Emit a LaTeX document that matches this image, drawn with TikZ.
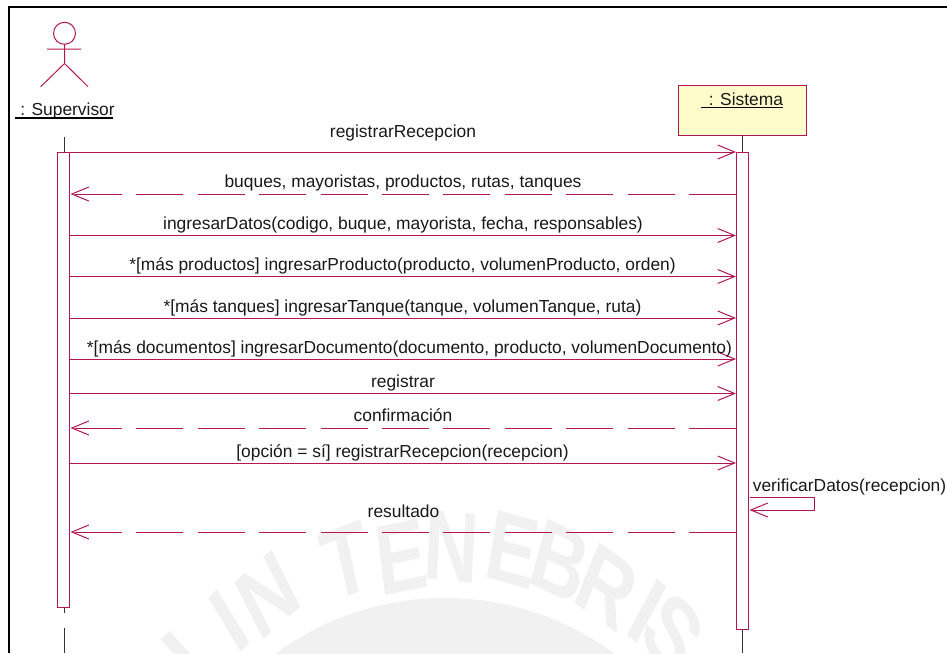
\documentclass[tikz,border=0pt]{standalone}
\usepackage{fontspec}
\setmainfont{Liberation Sans}
\usetikzlibrary{arrows.meta}
\definecolor{rose}{HTML}{B2184F}
\definecolor{wm}{HTML}{F1F1F1}
\tikzset{
  wmletter/.style={text=wm,inner sep=0pt,font=\fontsize{100}{100}\selectfont\bfseries,xscale=.76,transform shape},
  roseline/.style={draw=rose,line width=1pt},
  activation/.style={roseline,fill=white,rectangle,minimum width=12pt,inner sep=0pt,outer sep=0pt},
  msg/.style={roseline,-{Straight Barb[length=17pt,width=14pt,color=rose]}},
  reply/.style={msg,dash pattern=on 47pt off 14.4pt},
  lifeline/.style={draw=black!80,line width=.6pt},
  lbl/.style={inner sep=0pt,anchor=base,text=black!90,font=\fontsize{17.4}{20}\selectfont},
  uline/.style={draw=black,line width=1.1pt},
}
\begin{document}
\begin{tikzpicture}[x=1pt,y=-1pt]
\useasboundingbox (0,0) rectangle (947,653);
\fill[white] (0,0) rectangle (947,653);
% faint seal in the background
\begin{scope}
\clip (0,0) rectangle (947,653);
\fill[wm] (445,883) circle[radius=285];
\draw[wm,line width=12pt] (165,635) -- (195,668);
\foreach \l/\x/\y/\a/\n in {I/229.5/621/-38.7/a,N/268/595/-33.7/b,T/347/561/-16/c,E/401/557/-9/d,N/452/547/4/e,E/513/550/12/f,B/560/562/20/g,R/607/587/28/h,I/647/611/35/i,S/673/633/42/j}
  \node[wmletter,rotate=-\a] (wm\n) at (\x,\y) {\l};
\end{scope}
% frame
\draw[black,line width=2pt] (9,653) -- (9,7) -- (947,7);
% actor
\draw[roseline] (64.5,33.3) circle[radius=11];
\draw[roseline] (64.5,44.3) -- (64.5,63.5) (47,49) -- (81,49) (40.7,86.7) -- (64.5,63.5) -- (88,86.7);
\node[lbl] (suplabel) at (67.5,115.5) {: Supervisor};
\draw[uline] (15,118) -- (113,118);
% object
\node[draw=rose,line width=1pt,fill=yellow!20,minimum width=128pt,minimum height=50pt,inner sep=0pt,outer sep=0pt] (sistema) at (742,110.2) {};
\node[lbl] (sislabel) at (746,105) {: Sistema};
\draw[uline] (701,107.7) -- (783,107.7);
% lifelines
\coordinate (st) at (64,137);
\coordinate (sb1) at (64,613);
\coordinate (sb2) at (64,628);
\coordinate (sbe) at (64,653);
\coordinate (mbe) at (742.5,653);
\draw[lifeline] (st) -- (sb1) (sb2) -- (sbe);
\draw[lifeline] (sistema.south -| mbe) -- (mbe);
% activations
\node[activation,minimum height=455pt] (sup) at (63.5,379.5) {};
\node[activation,minimum height=477pt] (sis) at (742,390.5) {};
% messages
\draw[msg] (sup.east |- 0,152) -- (sis.west |- 0,152);
\draw[reply] (sis.west |- 0,194) -- ([xshift=1pt]sup.east |- 0,194);
\draw[msg] (sup.east |- 0,235.5) -- (sis.west |- 0,235.5);
\draw[msg] (sup.east |- 0,276.5) -- (sis.west |- 0,276.5);
\draw[msg] (sup.east |- 0,318) -- (sis.west |- 0,318);
\draw[msg] (sup.east |- 0,359) -- (sis.west |- 0,359);
\draw[msg] (sup.east |- 0,393.5) -- (sis.west |- 0,393.5);
\draw[reply] (sis.west |- 0,428) -- ([xshift=1pt]sup.east |- 0,428);
\draw[msg] (sup.east |- 0,463) -- (sis.west |- 0,463);
\draw[reply] (sis.west |- 0,532) -- ([xshift=1pt]sup.east |- 0,532);
\draw[msg] ([xshift=1.5pt]sis.east |- 0,497) -| (814.5,510) -- ([xshift=1.5pt]sis.east |- 0,510);
% labels
\node[lbl] (m1) at (403,137.5) {registrarRecepcion};
\node[lbl] (m2) at (403,187) {buques, mayoristas, productos, rutas, tanques};
\node[lbl] (m3) at (403,229.5) {ingresarDatos(codigo, buque, mayorista, fecha, responsables)};
\node[lbl] (m4) at (402.5,270.5) {*[más productos] ingresarProducto(producto, volumenProducto, orden)};
\node[lbl] (m5) at (402.5,312) {*[más tanques] ingresarTanque(tanque, volumenTanque, ruta)};
\node[lbl] (m6) at (409.5,353) {*[más documentos] ingresarDocumento(documento, producto, volumenDocumento)};
\node[lbl] (m7) at (403,387.5) {registrar};
\node[lbl] (m8) at (403,421.5) {confirmación};
\node[lbl] (m9) at (402.5,457) {[opción = sí] registrarRecepcion(recepcion)};
\node[lbl] (m10) at (849.5,491.5) {verificarDatos(recepcion)};
\node[lbl] (m11) at (403.5,517) {resultado};
\end{tikzpicture}
\end{document}
